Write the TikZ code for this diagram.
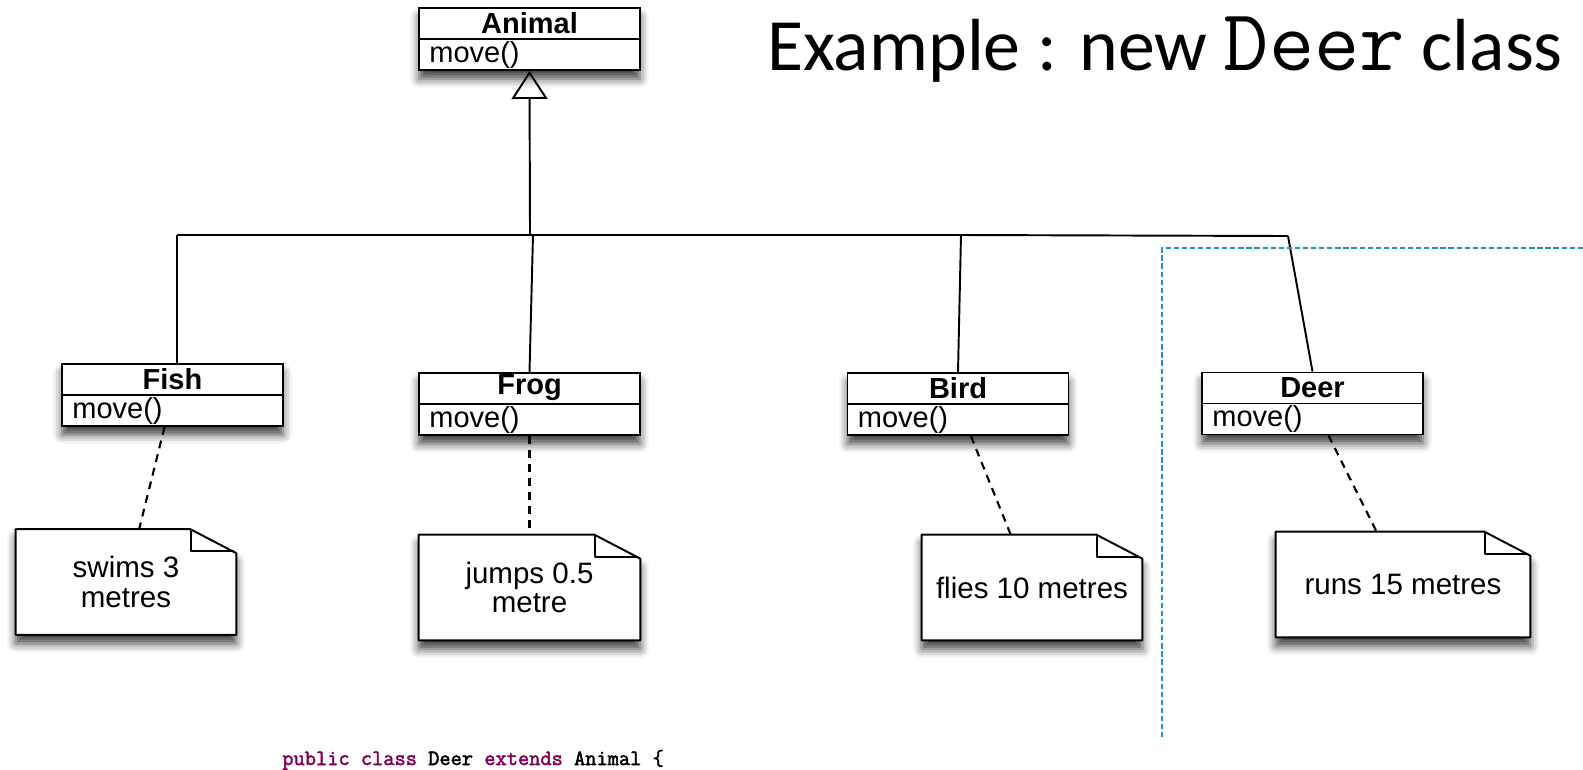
\documentclass[tikz,border=0pt]{standalone}
\usepackage{fontspec}
\setmainfont{Liberation Sans}
\newfontfamily\titlefont{Carlito}
\newfontfamily\codefont[FakeBold=2.2]{Latin Modern Mono}
\usetikzlibrary{calc,arrows.meta,shadows.blur}
\definecolor{framecolor}{RGB}{25,150,200}
\definecolor{keyword}{RGB}{127,0,85}

% class box: name part and one operation part
\newcommand{\umlclass}[3]{%
  \node[classbox] (#1) at #2 {};
  \draw[link] (#1.west) -- (#1.east);
  \node[classname] (#1-name) at ($(#1.north)!0.5!(#1.center)$) {#3};
  \node[classop] (#1-op) at ($(#1.west)!0.5!(#1.south west)+(0.22cm,0)$) {move()};
}
% note with folded corner
\newcommand{\umlnote}[4]{%
  \node[notebox, minimum width=#3] (#1) at #2 {};
  \draw[link, fill=white, blur shadow={shadow xshift=0pt, shadow yshift=-5pt, shadow blur radius=5pt, shadow opacity=75}]
    (#1.south west) -- (#1.north west) -- ([xshift=-0.92cm]#1.north east)
    -- ([yshift=-0.48cm]#1.north east) -- (#1.south east) -- cycle;
  \draw[link] ([xshift=-0.9cm]#1.north east) -- ([xshift=-0.9cm,yshift=-0.44cm]#1.north east)
    -- ([xshift=-0.05cm,yshift=-0.44cm]#1.north east);
  \node[notetext] (#1-text) at (#1) {#4};
}

\begin{document}
\begin{tikzpicture}[x=0.02cm, y=-0.02cm,
    link/.style={line width=1.1pt, line join=round},
    classbox/.style={draw, line width=1.1pt, fill=white, inner sep=0pt,
      minimum width=4.42cm, minimum height=1.24cm,
      blur shadow={shadow xshift=0pt, shadow yshift=-5pt, shadow blur radius=5pt, shadow opacity=75}},
    classname/.style={inner sep=0pt, font=\fontsize{16.5}{18}\selectfont\bfseries},
    classop/.style={inner sep=0pt, anchor=west, font=\fontsize{16.5}{18}\selectfont},
    notebox/.style={inner sep=0pt, minimum height=2.1cm},
    notetext/.style={inner sep=0pt, align=center, font=\fontsize{16.8}{17}\selectfont},
    notelink/.style={line width=1.2pt, dash pattern=on 4.5pt off 3.5pt},
    frame/.style={framecolor, line width=1pt, dash pattern=on 3pt off 1.6pt}]
  \clip (0,0) rectangle (1583,769);

  % classes
  \umlclass{animal}{(529.5,39)}{Animal}
  \umlclass{fish}{(172.5,395)}{Fish}
  \umlclass{frog}{(529.5,404)}{Frog}
  \umlclass{bird}{(958,404)}{Bird}
  \umlclass{deer}{(1312.5,403.5)}{Deer}

  % notes
  \umlnote{fishnote}{(126,582)}{4.4cm}{swims 3\\metres}
  \umlnote{frognote}{(529.5,587.5)}{4.42cm}{jumps 0.5\\metre}
  \umlnote{birdnote}{(1032,587.5)}{4.4cm}{flies 10 metres}
  \umlnote{deernote}{(1403,584.5)}{5.08cm}{runs 15 metres}

  % inheritance tree
  \coordinate (jfish) at (177,235);
  \coordinate (janimal) at (530,234);
  \coordinate (jfrog) at (533,235);
  \coordinate (jbird) at (961,235);
  \coordinate (jdeer) at (1288,236);
  \draw[link] (jfish) -- (jbird) -- (jdeer);
  \draw[link] (jfish) -- (jfish |- fish.north);
  \draw[link] (jfrog) -- (frog.north);
  \draw[link] (jbird) -- (bird.north);
  \draw[link] (jdeer) -- (deer.north);
  \draw[link, -{Triangle[open, width=0.72cm, length=0.56cm]}] (janimal) -- (animal.south);

  % note anchors
  \draw[notelink] (fish) -- (fishnote);
  \draw[notelink] (frog) -- (frognote);
  \draw[notelink] (bird) -- (birdnote);
  \draw[notelink] (deer) -- (deernote);

  % new class frame
  \coordinate (frametop) at (1583,248);
  \coordinate (framecorner) at (1162,248);
  \coordinate (framebottom) at (1162,737);
  \draw[frame] (frametop) -- (framecorner) -- (framebottom);

  \node[anchor=base west, inner sep=0pt, font=\titlefont\fontsize{42}{48}\selectfont] (title) at (767,70)
    {Example : new {\ttfamily\fontsize{50}{52}\selectfont Deer} class};
  \node[anchor=base west, inner sep=0pt, font=\codefont\fontsize{12.4}{14}\selectfont] (code) at (282,765)
    {\textcolor{keyword}{public class} Deer \textcolor{keyword}{extends} Animal \{};
\end{tikzpicture}
\end{document}
